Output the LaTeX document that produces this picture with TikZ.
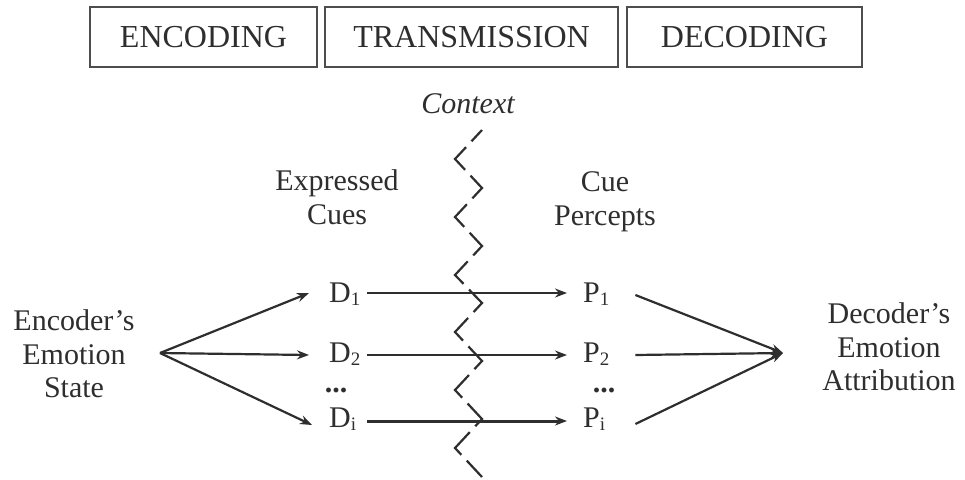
\documentclass[tikz,border=0pt]{standalone}
\usepackage{fontspec}
\setmainfont{Liberation Serif}
\usepackage{tikz}
\usetikzlibrary{arrows.meta,positioning}

\definecolor{ink}{HTML}{2E2E2E}
\newcommand{\idx}[1]{\raisebox{-3.5pt}{\fontsize{19}{19}\selectfont #1}}
\tikzset{
  phase/.style={draw=ink!85, line width=1.5pt, minimum height=60pt, inner sep=0pt,
    font=\fontsize{32}{36}\selectfont, text=ink},
  lbl/.style={align=center, inner sep=0pt, font=\fontsize{30}{33.5}\selectfont, text=ink},
  cue/.style={lbl, anchor=west, text width=38pt, align=left},
  flow/.style={draw=ink, line width=2.2pt, -{Stealth[length=12pt,width=9pt]}},
}

\begin{document}
\begin{tikzpicture}[x=1pt,y=-1pt]
  \useasboundingbox (0,0) rectangle (965,479);

  % stages
  \node[phase, minimum width=227pt] (encbox) at (203.5,37) {ENCODING};
  \node[phase, minimum width=293pt] (trbox) at (471.5,37) {TRANSMISSION};
  \node[phase, minimum width=235pt] (decbox) at (744.5,37) {DECODING};

  \node[lbl, anchor=base, font=\fontsize{30}{33.5}\selectfont\itshape] (ctx) at (468,113) {Context};
  \draw[ink, line width=2.2pt, dash pattern=on 31pt off 8pt, dash phase=15.6pt]
    (482,130) -- (455,159) -- (482,188) -- (455,217) -- (482,246) -- (455,275)
    -- (482,303) -- (455,332) -- (482,361) -- (455,390) -- (482,419) -- (455,448)
    -- (482,477);

  \node[lbl] (expr) at (337,197) {Expressed\\Cues};
  \node[lbl] (perc) at (605,202) {Cue\\Percepts};
  \node[lbl] (enc) at (74,354) {Encoder’s\\Emotion\\State};
  \node[lbl] (dec) at (889,347) {Decoder’s\\Emotion\\Attribution};

  \node[cue] (d1) at (329,294) {D\idx{1}};
  \node[cue] (d2) at (329,354) {D\idx{2}};
  \node[cue] (di) at (329,419) {D\idx{i}};
  \node[lbl, anchor=base] (ddots) at (336,392) {\textbf{...}};
  \node[cue, text width=32pt] (p1) at (583,294) {P\idx{1}};
  \node[cue, text width=32pt] (p2) at (583,354) {P\idx{2}};
  \node[cue, text width=32pt] (pi) at (583,419) {P\idx{i}};
  \node[lbl, anchor=base] (pdots) at (604,392) {\textbf{...}};

  \coordinate (src) at (160,353);
  \coordinate (dst) at (783,353);

  \draw[flow] (src) -- ([xshift=-20pt,yshift=1pt]d1.west);
  \draw[flow] (src) -- ([xshift=-20pt,yshift=-1pt]d2.west);
  \draw[flow] (src) -- ([xshift=-17pt,yshift=-6pt]di.west);

  \draw[flow, line width=1.8pt] ([yshift=1pt]d1.east) -- ([xshift=-16pt,yshift=1pt]p1.west);
  \draw[flow, line width=1.8pt] ([yshift=-1pt]d2.east) -- ([xshift=-16pt,yshift=-1pt]p2.west);
  \draw[flow, line width=3pt] ([yshift=-2pt]di.east) -- ([xshift=-16pt,yshift=-2pt]pi.west);

  \draw[flow] ([xshift=20pt,yshift=-1pt]p1.east) -- (dst);
  \draw[flow] ([xshift=20pt,yshift=-1pt]p2.east) -- (dst);
  \draw[flow] ([xshift=20pt,yshift=-5pt]pi.east) -- (dst);
\end{tikzpicture}
\end{document}
